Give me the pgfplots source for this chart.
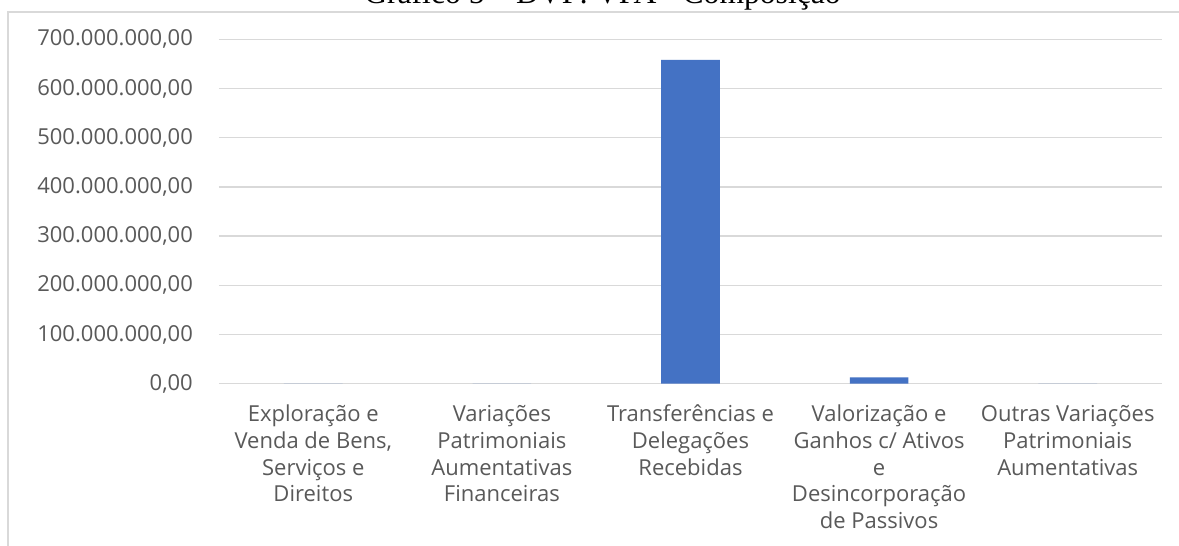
\documentclass[border=0pt]{standalone}
\usepackage{pgfplots}
\pgfplotsset{compat=1.18}
\usepackage{fontspec}
\setmainfont{Open Sans}
\newfontfamily\titlefont{Liberation Serif}
\definecolor{barblue}{HTML}{4472C4}
\definecolor{txtgray}{HTML}{595959}
\definecolor{gridgray}{HTML}{D9D9D9}
\newcommand{\FL}{\rule{0pt}{21pt}}
\begin{document}
\begin{tikzpicture}[x=1pt,y=1pt]
\useasboundingbox (0,0) rectangle (1179,546);
\fill[white] (0,0) rectangle (1179,546);
\node[font=\titlefont\fontsize{31.6}{36}\selectfont, anchor=base, inner sep=0pt] at (602.5,542) {Gráfico 5 – DVP: VPA - Composição};
\draw[gridgray, line width=1.4pt] (8,-10) -- (8,534) -- (1200,534);
\begin{axis}[
  at={(219pt,162.3pt)}, anchor=south west,
  scale only axis, width=943pt, height=344.4pt,
  xmin=-0.5, xmax=4.5, ymin=0, ymax=700000000,
  axis line style={draw=none},
  clip=false,
  scaled y ticks=false,
  ytick={0,100000000,200000000,300000000,400000000,500000000,600000000,700000000},
  yticklabels={{0,00},{100.000.000,00},{200.000.000,00},{300.000.000,00},{400.000.000,00},{500.000.000,00},{600.000.000,00},{700.000.000,00}},
  xtick={0,1,2,3,4},
  xticklabels={
    {\FL Exploração e\\Venda de Bens,\\Serviços e\\Direitos},
    {\FL Variações\\Patrimoniais\\Aumentativas\\Financeiras},
    {\FL Transferências e\\Delegações\\Recebidas},
    {\FL Valorização e\\Ganhos c/ Ativos\\e\\Desincorporação\\de Passivos},
    {\FL Outras Variações\\Patrimoniais\\Aumentativas}},
  major tick length=0pt,
  tick style={draw=none},
  yticklabel style={anchor=east, inner sep=0pt, xshift=-26pt, font=\fontsize{22}{26.6}\selectfont, text=txtgray},
  xticklabel style={anchor=north, inner sep=0pt, yshift=-17pt, align=center, font=\fontsize{22}{26.6}\selectfont, text=txtgray},
  ymajorgrids, grid style={gridgray, line width=1.3pt},
  /pgf/number format/assume math mode=true,
]
\addplot[ybar, bar width=58.6pt, fill=barblue, draw=none] coordinates {
  (0,0) (1,0) (2,658000000) (3,12800000) (4,0)
};
\end{axis}
\end{tikzpicture}
\end{document}
